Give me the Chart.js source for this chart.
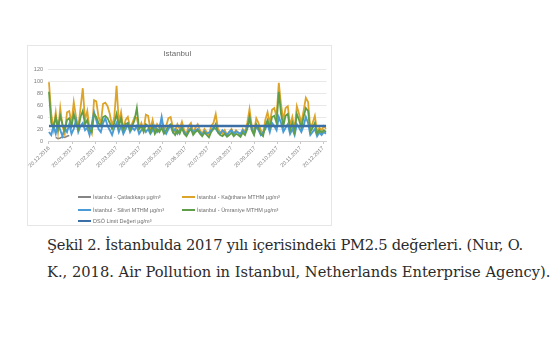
<!DOCTYPE html>
<html><head><meta charset="utf-8">
<script src="https://cdn.jsdelivr.net/npm/chart.js@4/dist/chart.umd.min.js"></script>
<style>
html,body{margin:0;padding:0;background:#fff;width:555px;height:355px;overflow:hidden}
#frame{position:absolute;left:27px;top:45px;width:303px;height:179px;border:1px solid #e6e6e6;}
#cv{position:absolute;left:0;top:0;}
#cap{position:absolute;left:47px;top:231px;font-family:'DejaVu Serif',serif;font-size:14px;line-height:27px;color:#2b2b2b;white-space:nowrap}
#cap span{display:inline-block}
</style></head><body>
<div id="frame"><canvas id="cv" width="303" height="179"></canvas></div>
<div id="cap"><div><span id="l1">Şekil 2. İstanbulda 2017 yılı içerisindeki PM2.5 değerleri. (Nur, O.</span></div><div><span id="l2">K., 2018. Air Pollution in Istanbul, Netherlands Enterprise Agency).</span></div></div>
<script>
const chartTitle = 'Istanbul';
const seriesNames = ['İstanbul - Çatladıkapı µg/m³','İstanbul - Kağıthane MTHM µg/m³','İstanbul - Silivri MTHM µg/m³','İstanbul - Ümraniye MTHM µg/m³','DSÖ Limit Değeri µg/m³'];
const tickLabels = ['20.12.2016','20.01.2017','20.02.2017','20.03.2017','20.04.2017','20.05.2017','20.06.2017','20.07.2017','20.08.2017','20.09.2017','20.10.2017','20.11.2017','20.12.2017'];
const tickDays = [0,31,62,90,121,151,182,212,243,274,304,335,365];
const dayStep = 3; // one sample every 3 days starting 20.12.2016
const yTicks = [0,20,40,60,80,100,120];

const catladikapi = [null,null,null,6,4,5,7,6,8,9];
const kagithane = [98,45,20,48,15,55,25,12,48,50,30,65,40,22,55,88,35,50,20,12,
68,66,40,30,62,64,58,45,25,40,92,30,48,20,35,40,22,30,40,38,
20,30,18,44,42,20,35,15,28,22,35,18,25,38,40,22,15,28,20,32,
18,12,25,30,15,22,28,18,12,20,15,10,25,30,45,20,15,12,18,10,
15,20,12,18,14,10,20,15,30,53,25,15,38,30,18,12,35,48,30,52,
55,40,97,60,35,55,58,25,40,20,58,45,30,50,72,65,20,30,42,15,
22,18,25,20];
const silivri = [15,10,25,12,30,18,8,22,15,28,12,20,35,15,25,30,18,22,10,28,
48,35,20,15,30,38,25,18,10,22,30,15,25,12,20,28,15,22,18,25,
12,18,22,15,20,12,18,25,15,20,40,18,12,20,25,15,20,12,18,22,
15,10,18,22,14,18,20,15,10,16,12,14,18,22,20,15,12,18,14,10,
15,18,12,16,14,12,18,14,22,38,20,12,25,18,10,14,20,28,15,30,
25,18,40,30,15,22,28,12,20,10,28,22,15,25,40,30,10,15,20,8,
14,10,15,12];
const umraniye = [82,30,22,40,20,42,28,18,35,38,25,45,30,20,40,50,28,35,18,15,
45,40,30,25,40,42,38,30,20,30,45,25,38,18,28,30,18,25,35,55,
20,25,15,28,25,15,25,12,20,15,22,12,18,25,28,15,10,18,12,22,
12,8,15,20,10,15,18,12,8,14,10,6,15,20,28,14,10,8,12,7,
10,14,8,12,10,7,14,10,20,40,18,10,28,22,12,8,25,35,22,40,
42,30,82,45,25,42,45,18,30,15,45,35,22,40,55,50,15,22,30,12,
18,14,18,15];
const whoLimit = 25;

const colors = ['#858585','#DDA42A','#4A9BD6','#5E9E48','#3C6FA6'];
const widths = [1.6,1.8,1.9,1.8,2.6];
const orders = [4,3,2,1,0];

// fit caption lines to the widths they take in the reference
(function(){
  const cap = document.getElementById('cap');
  const l1 = document.getElementById('l1'), l2 = document.getElementById('l2');
  const fs = 14 * 504 / l2.getBoundingClientRect().width;
  cap.style.fontSize = fs.toFixed(2) + 'px';
  const w1 = l1.getBoundingClientRect().width;
  const n1 = l1.textContent.length;
  l1.style.letterSpacing = ((476 - w1) / n1).toFixed(3) + 'px';
})();

const toPts = arr => arr.map((v,i)=>({x:i*dayStep,y:v}));
const limitArr = kagithane.map(()=>whoLimit);
const seriesData = [catladikapi,kagithane,silivri,umraniye,limitArr];

const datasets = seriesData.map((arr,k)=>({
  label: seriesNames[k], data: toPts(arr), borderColor: colors[k], backgroundColor: colors[k],
  borderWidth: widths[k], pointRadius:0, tension:0, spanGaps:false, order: orders[k], fill:false
}));

const legendPlugin = {
  id:'xlLegend',
  afterDraw(chart){
    const ctx = chart.ctx;
    const cols = [50,154];
    const rows = [151,164,175];
    ctx.save();
    ctx.font = '5.5px "Liberation Sans", sans-serif';
    ctx.textBaseline = 'middle';
    ctx.fillStyle = '#6e6e6e';
    chart.data.datasets.forEach((ds,i)=>{
      const x = cols[i%2], y = rows[Math.floor(i/2)];
      ctx.strokeStyle = ds.borderColor; ctx.lineWidth = 2;
      ctx.beginPath(); ctx.moveTo(x,y); ctx.lineTo(x+13,y); ctx.stroke();
      ctx.fillText(ds.label, x+15, y+0.3);
    });
    ctx.restore();
  }
};

new Chart(document.getElementById('cv'), {
  type:'line',
  data:{datasets},
  plugins:[legendPlugin],
  options:{
    responsive:false, animation:false, devicePixelRatio:1,
    layout:{padding:{top:0,left:0,right:4.5,bottom:49}},
    plugins:{
      legend:{display:false}, tooltip:{enabled:false},
      title:{display:true,text:chartTitle,color:'#6b6b6b',font:{family:'"Liberation Sans", sans-serif',size:8,weight:'normal'},padding:{top:3.2,bottom:10.2}}
    },
    scales:{
      x:{type:'linear',min:-1.3,max:369.5,
        afterBuildTicks:s=>{s.ticks = tickDays.map(v=>({value:v}));},
        afterFit:s=>{s.height=35;s.paddingLeft=0;s.paddingRight=0;},
        ticks:{autoSkip:false,minRotation:45,maxRotation:45,padding:1,color:'#7a7a7a',font:{family:'"Liberation Sans", sans-serif',size:5.5},
          callback:(v)=>tickLabels[tickDays.indexOf(v)]},
        grid:{display:true,drawOnChartArea:false,drawTicks:true,tickLength:3,color:'#c8c8c8'},
        border:{display:true,color:'#cfcfcf',width:1}
      },
      y:{min:0,max:120,
        afterBuildTicks:s=>{s.ticks = yTicks.map(v=>({value:v}));},
        afterFit:s=>{s.width=20;s.paddingTop=0;s.paddingBottom=0;},
        ticks:{padding:5,color:'#7a7a7a',font:{family:'"Liberation Sans", sans-serif',size:5.5}},
        grid:{color:'#e8e8e8',drawTicks:false},
        border:{display:false}
      }
    }
  }
});
</script>
</body></html>
